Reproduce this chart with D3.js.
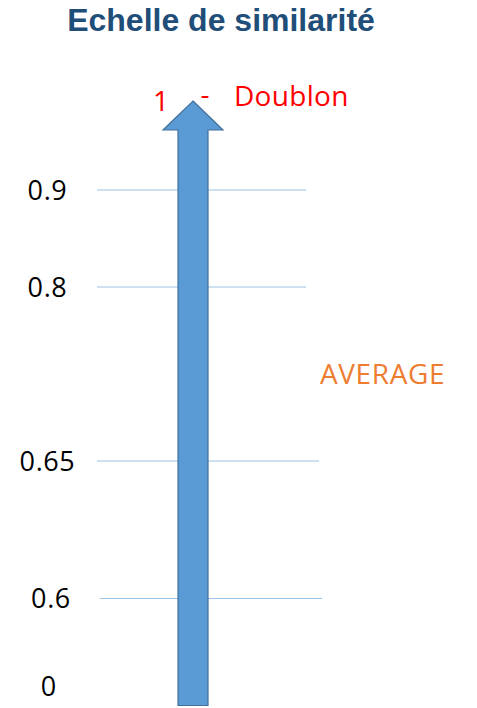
<!DOCTYPE html>
<html>
<head>
<meta charset="utf-8">
<script src="https://cdn.jsdelivr.net/npm/d3@7"></script>
<style>
  html, body { margin: 0; padding: 0; background: #fff; }
  svg { display: block; }
</style>
</head>
<body>
<svg id="chart" width="477" height="708"></svg>
<script>
// ---- data ----
const title = "Echelle de similarité";
const scaleStops = [0, 0.6, 0.65, 0.8, 0.9, 1];
const tickValues = [0.9, 0.8, 0.65, 0.6];
const tickLabels = ["0.9", "0.8", "0.65", "0.6"];
const baseValue = 0;
const baseLabel = "0";
const topValue = 1;
const topLabel = "1";
const topCategory = "Doublon";
const bandLabel = "AVERAGE";
const bandRange = [0.65, 0.8];

// ---- layout ----
const svg = d3.select("#chart");
const y = d3.scaleLinear()
  .domain(scaleStops)
  .range([686, 598.5, 461, 287, 190, 101]);

const lineEnds = { 0.9: [97, 306], 0.8: [97, 306], 0.65: [97, 319], 0.6: [100, 322] };
const arrowX = d3.scaleLinear().domain([-1, 1]).range([163, 223]); // head half-width
const shaftHalf = 0.5; // fraction of head half-width
const labelFont = "'Open Sans', 'DejaVu Sans', sans-serif";

// title
svg.append("text")
  .attr("x", 221).attr("y", 31)
  .attr("text-anchor", "middle")
  .attr("font-family", "'Liberation Sans', Arial, sans-serif")
  .attr("font-weight", "bold")
  .attr("font-size", 32)
  .attr("fill", "#1F4E79")
  .text(title);

// guide lines
svg.append("g").selectAll("line")
  .data(tickValues)
  .join("line")
  .attr("x1", d => lineEnds[d][0])
  .attr("x2", d => lineEnds[d][1])
  .attr("y1", d => y(d))
  .attr("y2", d => y(d))
  .attr("stroke", "#9DC3E6")
  .attr("stroke-width", 1.2);

// tick labels
svg.append("g").selectAll("text")
  .data(tickValues)
  .join("text")
  .attr("x", (d, i) => d === 0.6 ? 51 : 47.5)
  .attr("y", d => y(d))
  .attr("dy", "0.36em")
  .attr("text-anchor", "middle")
  .attr("font-family", labelFont)
  .attr("font-size", 27)
  .attr("letter-spacing", 0.6)
  .attr("fill", "#000")
  .text((d, i) => tickLabels[i]);

svg.append("text")
  .attr("x", 48.5)
  .attr("y", y(baseValue))
  .attr("dy", "0.36em")
  .attr("text-anchor", "middle")
  .attr("font-family", labelFont)
  .attr("font-size", 27)
  .attr("fill", "#000")
  .text(baseLabel);

// arrow
const headBase = y(topValue) + 29;
const shaftBottom = y(baseValue) + 19.5;
const arrowPts = [
  [arrowX(0), y(topValue)],
  [arrowX(1), headBase],
  [arrowX(shaftHalf), headBase],
  [arrowX(shaftHalf), shaftBottom],
  [arrowX(-shaftHalf), shaftBottom],
  [arrowX(-shaftHalf), headBase],
  [arrowX(-1), headBase]
];
svg.append("path")
  .attr("d", d3.line()(arrowPts) + "Z")
  .attr("fill", "#5B9BD5")
  .attr("stroke", "#41719C")
  .attr("stroke-width", 1.2)
  .attr("stroke-linejoin", "miter");

// top label
const topG = svg.append("g")
  .attr("font-family", labelFont)
  .attr("font-size", 28)
  .attr("fill", "#FF0000");
topG.append("text")
  .attr("x", 161).attr("y", y(topValue))
  .attr("dy", "0.36em")
  .attr("text-anchor", "middle")
  .text(topLabel);
topG.append("text")
  .attr("x", 205).attr("y", y(topValue))
  .attr("dy", "0.1em")
  .attr("text-anchor", "middle")
  .text("-");
topG.append("text")
  .attr("x", 234).attr("y", y(topValue))
  .attr("dy", "0.17em")
  .attr("letter-spacing", 0.3)
  .text(topCategory);

// band label
svg.append("text")
  .attr("x", 320)
  .attr("y", y((bandRange[0] + bandRange[1]) / 2))
  .attr("dy", "0.36em")
  .attr("font-family", labelFont)
  .attr("font-size", 28)
  .attr("letter-spacing", 0.6)
  .attr("fill", "#ED7D31")
  .text(bandLabel);
</script>
</body>
</html>
